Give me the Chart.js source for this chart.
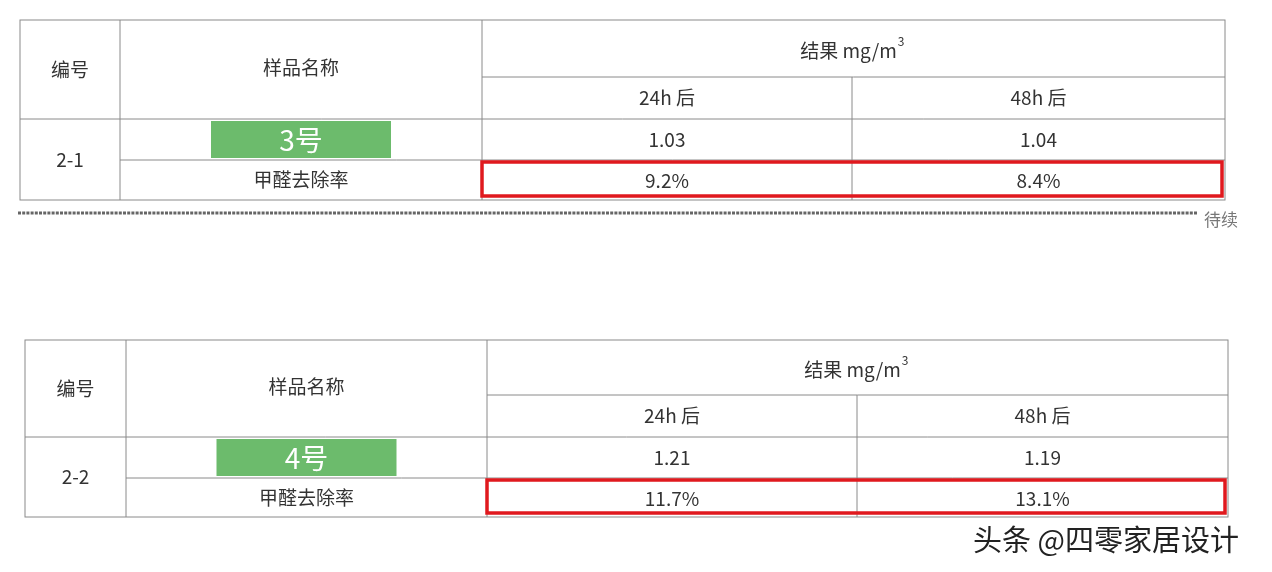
<!DOCTYPE html>
<html>
<head>
<meta charset="utf-8">
<script src="https://cdn.jsdelivr.net/npm/chart.js@4"></script>
<style>
  html, body { margin: 0; padding: 0; background: #fff; }
</style>
</head>
<body>
<canvas id="tbl" width="1272" height="572"></canvas>
<script>
// values
const tableIds = ["2-1", "2-2"];
const samples = ["3号", "4号"];
const after24 = ["1.03", "1.21"];
const after48 = ["1.04", "1.19"];
const rate24 = ["9.2%", "11.7%"];
const rate48 = ["8.4%", "13.1%"];

// table geometry in scale units (x 0..1272, y 0..572)
const tableCols = [[20, 120, 482, 852, 1225], [25, 126, 487, 857, 1228]];
const tableRows = [[20, 77, 119, 160, 200], [340, 395, 437, 478, 517]];

const FONT = '"Noto Sans CJK SC", "Noto Sans", sans-serif';

const tablePlugin = {
  id: "tables",
  afterDraw(chart) {
    const ctx = chart.ctx;
    const sx = v => chart.scales.x.getPixelForValue(v);
    const sy = v => chart.scales.y.getPixelForValue(v);
    const line = (x1, y1, x2, y2) => {
      ctx.beginPath();
      ctx.moveTo(sx(x1), sy(y1));
      ctx.lineTo(sx(x2), sy(y2));
      ctx.stroke();
    };
    const text = (t, x, y, size, color) => {
      ctx.font = `${size}px ${FONT}`;
      ctx.fillStyle = color || "#333";
      ctx.textAlign = "center";
      ctx.textBaseline = "middle";
      ctx.fillText(t, sx(x), sy(y));
    };

    ctx.save();
    tableIds.forEach((id, i) => {
      const c = tableCols[i], r = tableRows[i];
      ctx.strokeStyle = "#8a8a8a";
      ctx.lineWidth = 1;
      // outer box
      ctx.strokeRect(sx(c[0]), sy(r[0]), sx(c[4]) - sx(c[0]), sy(r[4]) - sy(r[0]));
      // vertical lines
      line(c[1], r[0], c[1], r[4]);
      line(c[2], r[0], c[2], r[4]);
      line(c[3], r[1], c[3], r[4]);
      // horizontal lines
      line(c[2], r[1], c[4], r[1]);
      line(c[0], r[2], c[4], r[2]);
      line(c[1], r[3], c[4], r[3]);

      // header
      text("编号", (c[0] + c[1]) / 2, (r[0] + r[2]) / 2, 19);
      text("样品名称", (c[1] + c[2]) / 2, (r[0] + r[2]) / 2 - 2, 19);
      ctx.font = `19px ${FONT}`;
      const hx = (c[2] + c[4]) / 2, hy = (r[0] + r[1]) / 2 + 2;
      text("结果 mg/m", hx - 5, hy, 19);
      const w = ctx.measureText("结果 mg/m").width;
      ctx.font = `12px ${FONT}`;
      ctx.textAlign = "left";
      ctx.fillText("3", sx(hx - 5) + w / 2 + 1, sy(hy - 9));
      text("24h 后", (c[2] + c[3]) / 2, (r[1] + r[2]) / 2, 19);
      text("48h 后", (c[3] + c[4]) / 2, (r[1] + r[2]) / 2, 19);

      // body
      text(id, (c[0] + c[1]) / 2, (r[2] + r[4]) / 2, 19);
      const gx = (c[1] + c[2]) / 2;
      ctx.fillStyle = "#6cbb6c";
      ctx.fillRect(sx(gx - 90), sy(r[2] + 2), sx(gx + 90) - sx(gx - 90), sy(r[3] - 2) - sy(r[2] + 2));
      text(samples[i], gx, (r[2] + r[3]) / 2 + 1, 28, "#fff");
      text(after24[i], (c[2] + c[3]) / 2, (r[2] + r[3]) / 2, 19);
      text(after48[i], (c[3] + c[4]) / 2, (r[2] + r[3]) / 2, 19);
      text("甲醛去除率", gx, (r[3] + r[4]) / 2, 19);
      text(rate24[i], (c[2] + c[3]) / 2, (r[3] + r[4]) / 2 + 1, 19);
      text(rate48[i], (c[3] + c[4]) / 2, (r[3] + r[4]) / 2 + 1, 19);

      // red highlight box
      ctx.strokeStyle = "#e0191e";
      ctx.lineWidth = 3.5;
      ctx.strokeRect(sx(c[2]), sy(r[3] + 2), sx(c[4] - 3) - sx(c[2]), sy(r[4] - 4) - sy(r[3] + 2));
    });

    // dotted separator
    ctx.fillStyle = "#666";
    for (let x = 18; x < 1196; x += 4.2) {
      ctx.fillRect(sx(x), sy(211.5), 3, 3);
    }
    text("待续", 1221, 220, 17, "#777");

    // watermark
    text("头条 @四零家居设计", 1106, 540, 29, "#222");
    ctx.restore();
  }
};

new Chart(document.getElementById("tbl"), {
  type: "scatter",
  data: { datasets: [{ data: [], pointRadius: 0 }] },
  options: {
    responsive: false,
    animation: false,
    layout: { padding: 0 },
    plugins: { legend: { display: false }, tooltip: { enabled: false } },
    scales: {
      x: { type: "linear", min: 0, max: 1272, display: false },
      y: { type: "linear", min: 0, max: 572, reverse: true, display: false }
    }
  },
  plugins: [tablePlugin]
});
</script>
</body>
</html>
